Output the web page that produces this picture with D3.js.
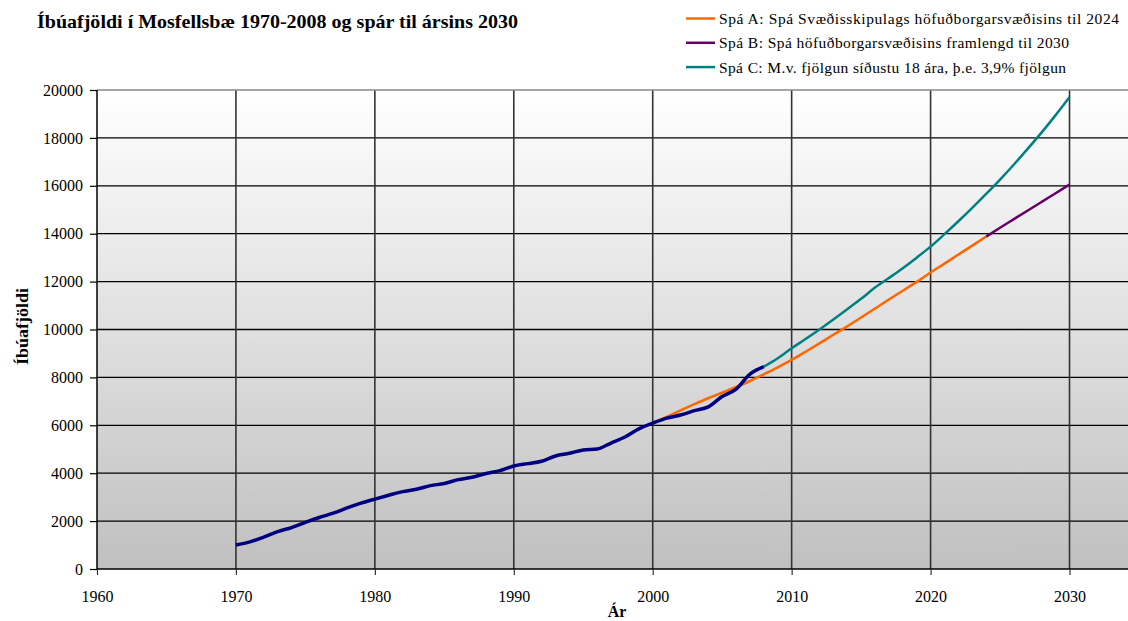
<!DOCTYPE html>
<html>
<head>
<meta charset="utf-8">
<script src="https://cdn.jsdelivr.net/npm/d3@7"></script>
<style>
  body { margin: 0; background: #fff; }
  text { font-family: "Liberation Serif", "Times New Roman", serif; fill: #000; }
</style>
</head>
<body>
<svg id="chart"></svg>
<script>
// historic population 1970-2008
const histYears = d3.range(1970, 2009);
const histValues = [1000, 1130, 1330, 1560, 1730, 1950, 2150, 2330, 2550, 2750,
  2920, 3080, 3230, 3330, 3480, 3570, 3730, 3830, 3990, 4110,
  4300, 4400, 4500, 4720, 4830, 4970, 5010, 5260, 5510, 5850,
  6090, 6300, 6430, 6610, 6770, 7200, 7510, 8140, 8450];

// Spá A (2000-2024)
const aYears = d3.range(2000, 2025);
const aValues = [6090, 6350, 6620, 6880, 7130, 7360, 7600, 7850, 8130, 8420,
  8730, 9070, 9420, 9780, 10130, 10500, 10880, 11250, 11620, 11990,
  12380, 12750, 13130, 13500, 13880];

// Spá B (2024-2030)
const bYears = d3.range(2024, 2031);
const bValues = [13880, 14250, 14610, 14970, 15330, 15690, 16050];

// Spá C (2008-2030)
const cYears = d3.range(2008, 2031);
const cValues = [8450, 8800, 9215, 9600, 10000, 10420, 10850, 11280, 11750, 12150,
  12560, 13000, 13460, 13980, 14520, 15080, 15660, 16260, 16890, 17550,
  18230, 18950, 19700];

const xTicks = [1960, 1970, 1980, 1990, 2000, 2010, 2020, 2030];
const yTicks = d3.range(0, 20001, 2000);

const legendLabels = [
  "Spá A: Spá Svæðisskipulags höfuðborgarsvæðisins til 2024",
  "Spá B: Spá höfuðborgarsvæðisins framlengd til 2030",
  "Spá C: M.v. fjölgun síðustu 18 ára, þ.e. 3,9% fjölgun"
];
const legendColors = ["#ff6600", "#660066", "#008080"];
const legendWidths = [400, 350, 347];

let W = 1128, H = 621;
let margin = {top: 90, left: 97, bottom: 52};

const svg = d3.select("#chart").attr("width", W).attr("height", H);

// set the ranges (13.893 px per year, plot runs past the window edge)
const x = d3.scaleLinear().domain([1960, 2035]).range([margin.left, margin.left + 75 * 13.893]);
const y = d3.scaleLinear().domain([0, 20000]).range([H - margin.bottom, margin.top]);

// plot background gradient
const grad = svg.append("defs").append("linearGradient")
    .attr("id", "bg").attr("x1", 0).attr("y1", 0).attr("x2", 0).attr("y2", 1);
grad.append("stop").attr("offset", "0%").attr("stop-color", "#ffffff");
grad.append("stop").attr("offset", "100%").attr("stop-color", "#c0c0c0");

svg.append("rect")
    .attr("x", x(1960)).attr("y", y(20000))
    .attr("width", W - x(1960)).attr("height", y(0) - y(20000))
    .attr("fill", "url(#bg)");

// horizontal grid
svg.append("g").selectAll("line")
    .data(yTicks.filter(d => d > 0 && d < 20000))
    .enter().append("line")
    .attr("x1", x(1960)).attr("x2", W)
    .attr("y1", d => y(d)).attr("y2", d => y(d))
    .attr("stroke", "#000").attr("stroke-width", 1.3);

// vertical grid
svg.append("g").selectAll("line")
    .data(xTicks.filter(d => d > 1960))
    .enter().append("line")
    .attr("x1", d => x(d)).attr("x2", d => x(d))
    .attr("y1", y(20000)).attr("y2", y(0))
    .attr("stroke", "#333").attr("stroke-width", 1.6);

// top border
svg.append("line")
    .attr("x1", x(1960)).attr("x2", W)
    .attr("y1", y(20000)).attr("y2", y(20000))
    .attr("stroke", "#888").attr("stroke-width", 1.5);

// axes
const xAxis = svg.append("g")
    .attr("transform", "translate(0," + y(0) + ")")
    .call(d3.axisBottom(x).tickValues(xTicks).tickFormat(d3.format("d")).tickSize(6).tickPadding(16));
xAxis.select(".domain").attr("d", "M" + x(1960) + ",0H" + W).attr("stroke", "#000").attr("stroke-width", 1.5);
xAxis.selectAll(".tick line").attr("stroke", "#333").attr("stroke-width", 1.2);
xAxis.selectAll("text").style("font-size", "16px").style("font-family", "Liberation Serif");

const yAxis = svg.append("g")
    .attr("transform", "translate(" + x(1960) + ",0)")
    .call(d3.axisLeft(y).tickValues(yTicks).tickFormat(d3.format("d")).tickSize(7).tickPadding(7));
yAxis.select(".domain").attr("d", "M0," + y(20000) + "V" + y(0)).attr("stroke", "#000").attr("stroke-width", 1.5);
yAxis.selectAll(".tick line").attr("stroke", "#000").attr("stroke-width", 1.2);
yAxis.selectAll("text").style("font-size", "16px").style("font-family", "Liberation Serif");

// lines
const line = d3.line()
    .x(d => x(d[0]))
    .y(d => y(d[1]))
    .curve(d3.curveMonotoneX);

function drawSeries(years, values, color, w) {
    svg.append("path")
        .datum(years.map((yr, i) => [yr, values[i]]))
        .attr("d", line)
        .attr("fill", "none")
        .attr("stroke", color)
        .attr("stroke-width", w)
        .attr("stroke-linejoin", "round");
}

drawSeries(cYears, cValues, "#008080", 2.5);
drawSeries(bYears, bValues, "#660066", 2.5);
drawSeries(aYears, aValues, "#ff6600", 2.5);
drawSeries(histYears, histValues, "#000080", 3.5);

// title
svg.append("text")
    .attr("x", 37).attr("y", 28)
    .attr("textLength", 481).attr("lengthAdjust", "spacingAndGlyphs")
    .style("font-size", "19px").style("font-weight", "bold")
    .text("Íbúafjöldi í Mosfellsbæ 1970-2008 og spár til ársins 2030");

// axis titles
svg.append("text")
    .attr("x", 617).attr("y", 617)
    .attr("text-anchor", "middle")
    .style("font-size", "16px").style("font-weight", "bold")
    .text("Ár");

svg.append("text")
    .attr("transform", "translate(28,326.5) rotate(-90)")
    .attr("text-anchor", "middle")
    .attr("textLength", 77).attr("lengthAdjust", "spacingAndGlyphs")
    .style("font-size", "16px").style("font-weight", "bold")
    .text("Íbúafjöldi");

// legend
const legend = svg.append("g").selectAll("g")
    .data(legendLabels)
    .enter().append("g")
    .attr("transform", (d, i) => "translate(686," + (18.5 + i * 24.3) + ")");
legend.append("line")
    .attr("x1", 0).attr("x2", 29)
    .attr("stroke", (d, i) => legendColors[i]).attr("stroke-width", 2.5);
legend.append("text")
    .attr("x", 33).attr("y", 5.5)
    .attr("textLength", (d, i) => legendWidths[i]).attr("lengthAdjust", "spacing")
    .style("font-size", "15.5px")
    .text(d => d);
</script>
</body>
</html>
